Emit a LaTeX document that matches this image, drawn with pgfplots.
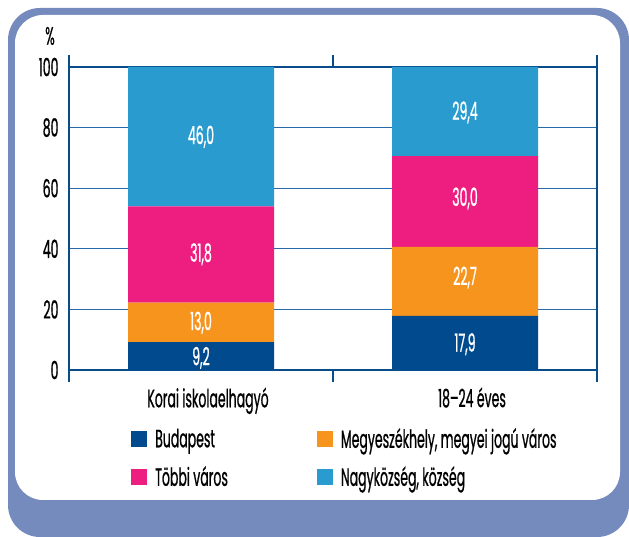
\documentclass[border=0pt]{standalone}
\usepackage{pgfplots}
\pgfplotsset{compat=1.18}
\usepackage{fontspec}
\setmainfont{Poppins}[FakeStretch=0.5, FakeBold=0.7]
\definecolor{frameblue}{RGB}{117,138,189}
\definecolor{axisblue}{RGB}{8,76,140}
\definecolor{gridblue}{RGB}{40,105,170}
\definecolor{cBud}{RGB}{0,74,141}
\definecolor{cMeg}{RGB}{247,148,30}
\definecolor{cTob}{RGB}{237,30,128}
\definecolor{cNagy}{RGB}{41,155,206}
\newcommand{\fs}{\fontsize{25}{29}\selectfont}
\pgfplotsset{
  sqlegend/.style={legend image code/.code={\fill[##1] (0pt,-8pt) rectangle (16pt,8pt);}}
}
\begin{document}
\begin{tikzpicture}
\fill[white] (0pt,0pt) rectangle (629pt,537pt);
\fill[frameblue, rounded corners=32pt] (8pt,0pt) rectangle (629pt,529pt);
\fill[white, rounded corners=28pt] (15pt,37pt) rectangle (620pt,522pt);
\node[font=\fs, inner sep=0pt] at (50pt,501pt) {\%};
\begin{axis}[
  at={(69pt,167pt)}, anchor=south west, scale only axis,
  width=528pt, height=303pt,
  ybar stacked, bar width=146pt,
  xmin=-0.5, xmax=1.5, ymin=0, ymax=100, enlargelimits=false,
  xtick={0,1}, xticklabels={Korai iskolaelhagyó, 18--24 éves},
  ytick={0,20,...,100},
  major tick length=0pt,
  ymajorgrids, grid style={gridblue, line width=1.2pt},
  axis line style={axisblue, line width=2.6pt},
  extra x ticks={-0.5,0.5,1.5}, extra x tick labels={},
  extra x tick style={grid=none, major tick length=12pt, tick align=outside, tick style={axisblue, line width=2.6pt}},
  tick label style={font=\fs},
  /pgf/number format/assume math mode=true,
  xticklabel style={yshift=-14pt, xshift=7pt},
  yticklabel style={xshift=-7pt},
  sqlegend,
  legend columns=2,
  legend cell align=left,
  legend style={draw=none, fill=none, inner sep=0pt, font=\fs,
    at={(0.1174,-0.185)}, anchor=north west,
    /tikz/every odd column/.append style={column sep=6pt},
    /tikz/every even column/.append style={column sep=87pt},
    row sep=13pt},
]
\addplot[fill=cBud, draw=none] coordinates {(0,9.2) (1,17.9)};
\addplot[fill=cMeg, draw=none] coordinates {(0,13.0) (1,22.7)};
\addplot[fill=cTob, draw=none] coordinates {(0,31.8) (1,30.0)};
\addplot[fill=cNagy, draw=none] coordinates {(0,46.0) (1,29.4)};
\legend{Budapest, {Megyeszékhely, megyei jogú város}, Többi város, {Nagyközség, község}}
\end{axis}
\begin{axis}[
  at={(69pt,167pt)}, anchor=south west, scale only axis,
  width=528pt, height=303pt, hide axis,
  xmin=-0.5, xmax=1.5, ymin=0, ymax=100,
]
\addplot[draw=none, mark=none, nodes near coords, point meta=explicit symbolic,
  every node near coord/.append style={anchor=center, text=white, font=\fs}]
  coordinates {(0,4.0)[9,2] (0,15.6)[13,0] (0,38.2)[31,8] (0,77.0)[46,0]
               (1,8.5)[17,9] (1,30.5)[22,7] (1,56.6)[30,0] (1,85.0)[29,4]};
\end{axis}
\end{tikzpicture}
\end{document}
